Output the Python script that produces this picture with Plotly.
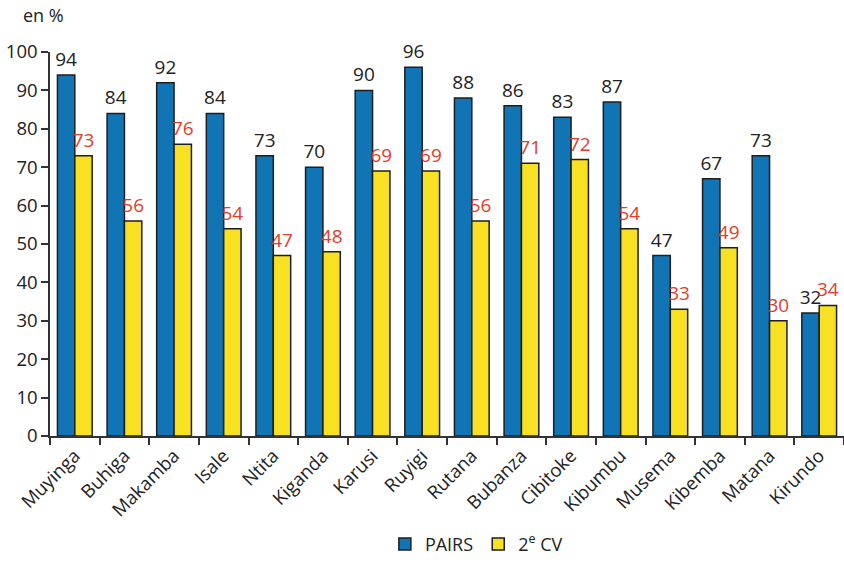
import plotly.graph_objects as go

provinces = ["Muyinga", "Buhiga", "Makamba", "Isale", "Ntita", "Kiganda", "Karusi", "Ruyigi",
             "Rutana", "Bubanza", "Cibitoke", "Kibumbu", "Musema", "Kibemba", "Matana", "Kirundo"]
pairs = [94, 84, 92, 84, 73, 70, 90, 96, 88, 86, 83, 87, 47, 67, 73, 32]
cv2 = [73, 56, 76, 54, 47, 48, 69, 69, 56, 71, 72, 54, 33, 49, 30, 34]
y_ticks = list(range(0, 101, 10))

FONT = "Open Sans"
BLUE = "#1174b4"
YELLOW = "#f8e122"
OUTLINE = "#1e1e1e"
RED = "#e63b2a"
INK = "#222222"

fig = go.Figure()
fig.add_trace(go.Bar(
    x=provinces, y=pairs, name="PAIRS",
    marker=dict(color=BLUE, line=dict(color=OUTLINE, width=1.5)),
    text=pairs, textposition="outside", constraintext="none", cliponaxis=False,
    textfont=dict(family=FONT, size=19, color=INK),
))
fig.add_trace(go.Bar(
    x=provinces, y=cv2, name="2<sup>e</sup> CV",
    marker=dict(color=YELLOW, line=dict(color=OUTLINE, width=1.5)),
    text=cv2, textposition="outside", constraintext="none", cliponaxis=False,
    textfont=dict(family=FONT, size=19, color=RED),
))

fig.update_layout(
    width=844, height=563,
    margin=dict(l=50, r=0, t=52, b=124),
    paper_bgcolor="white", plot_bgcolor="white",
    barmode="group", bargap=0.3, bargroupgap=0,
    font=dict(family=FONT, size=18, color=INK),
    showlegend=True,
    legend=dict(orientation="h", x=0.537, xanchor="center", y=-0.282, yanchor="middle",
                font=dict(family=FONT, size=18, color=INK), itemwidth=30),
    xaxis=dict(
        automargin=False,
        showline=True, linecolor="#333333", linewidth=1.5,
        ticks="outside", tickson="boundaries", ticklen=7, tickcolor="#333333", tickwidth=1.5,
        tickangle=-45, tickfont=dict(family=FONT, size=18.5, color=INK),
        showgrid=False,
    ),
    yaxis=dict(
        automargin=False,
        range=[0, 100], tickvals=y_ticks,
        showline=True, linecolor="#333333", linewidth=1.5,
        ticks="outside", ticklen=7, tickcolor="#333333", tickwidth=1.5,
        tickfont=dict(family=FONT, size=18.5, color=INK),
        showgrid=False, zeroline=False,
    ),
    annotations=[dict(text="en %", xref="paper", yref="paper", x=-0.008, y=1.096,
                      xanchor="center", yanchor="middle", showarrow=False,
                      font=dict(family=FONT, size=18, color=INK))],
)

fig.write_html("out.html")
